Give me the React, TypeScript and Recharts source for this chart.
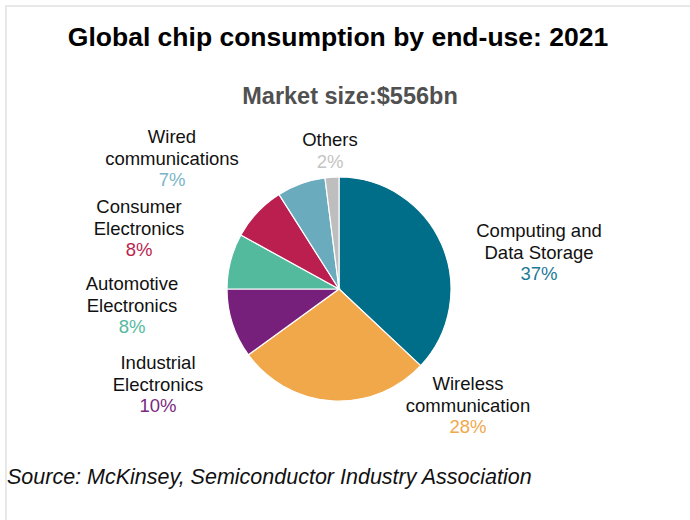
import React from 'react';
import { PieChart, Pie, Cell } from 'recharts';

const categories = [
  'Computing and Data Storage',
  'Wireless communication',
  'Industrial Electronics',
  'Automotive Electronics',
  'Consumer Electronics',
  'Wired communications',
  'Others',
];
const labelLines = [
  ['Computing and', 'Data Storage'],
  ['Wireless', 'communication'],
  ['Industrial', 'Electronics'],
  ['Automotive', 'Electronics'],
  ['Consumer', 'Electronics'],
  ['Wired', 'communications'],
  ['Others'],
];
const shares = [37, 28, 10, 8, 8, 7, 2];
const sliceColors = ['#006E89', '#F1A84B', '#76207B', '#53BA9E', '#BB1F50', '#6AABBE', '#BEBEBE'];
const pctColors = ['#1A7A95', '#F1A84B', '#7A2A80', '#53BA9E', '#BB1F50', '#7AB6C7', '#C4C4C4'];

const TITLE = 'Global chip consumption by end-use: 2021';
const SUBTITLE = 'Market size:$556bn';
const SOURCE = 'Source: McKinsey, Semiconductor Industry Association';

const data = categories.map((name, i) => ({ name, value: shares[i] }));

// label anchor (center x, first-line baseline) relative to pie center
const LABEL_LAYOUT: Array<[number, number]> = [
  [200, -52],
  [129, 101],
  [-181, 80],
  [-207, 1],
  [-200, -76],
  [-167, -146],
  [-9, -143],
];

const FONT = '"Liberation Sans", Arial, sans-serif';
const LINE = 21.5;

const renderLabel = (props: any) => {
  const { cx, cy, index, value } = props;
  const [dx, dy] = LABEL_LAYOUT[index];
  const x = cx + dx;
  const y = cy + dy;
  const lines = labelLines[index];
  return (
    <text x={x} y={y} textAnchor="middle" fontFamily={FONT} fontSize={18.5}>
      {lines.map((l, k) => (
        <tspan key={k} x={x} y={y + k * LINE} fill="#111">
          {l}
        </tspan>
      ))}
      <tspan x={x} y={y + lines.length * LINE} fill={pctColors[index]}>
        {value}%
      </tspan>
    </text>
  );
};

export default function App() {
  return (
    <div style={{ position: 'absolute', left: 0, top: 0, width: 690, height: 520, background: '#fff', overflow: 'hidden' }}>
      <div
        style={{
          position: 'absolute',
          left: 5,
          top: 5,
          width: 685,
          height: 515,
          borderTop: '2px solid #e8e8e8',
          borderLeft: '2px solid #e8e8e8',
        }}
      />
      <svg width={690} height={520} style={{ position: 'absolute', left: 0, top: 0 }}>
        <text x={338} y={46} textAnchor="middle" fontFamily={FONT} fontWeight="bold" fontSize={26.5} fill="#000">
          {TITLE}
        </text>
        <text x={350} y={104} textAnchor="middle" fontFamily={FONT} fontWeight="bold" fontSize={23.5} fill="#505050">
          {SUBTITLE}
        </text>
        <text x={7} y={484} fontFamily={FONT} fontStyle="italic" fontSize={21.5} fill="#111">
          {SOURCE}
        </text>
      </svg>
      <div style={{ position: 'absolute', left: 0, top: 0 }}>
        <PieChart width={690} height={520} margin={{ top: 0, right: 0, bottom: 0, left: 0 }}>
          <Pie
            data={data}
            dataKey="value"
            nameKey="name"
            cx={339}
            cy={289}
            outerRadius={112}
            startAngle={90}
            endAngle={-270}
            stroke="#ffffff"
            strokeWidth={1.2}
            label={renderLabel}
            labelLine={false}
            isAnimationActive={false}
          >
            {data.map((d, i) => (
              <Cell key={d.name} fill={sliceColors[i]} />
            ))}
          </Pie>
        </PieChart>
      </div>
    </div>
  );
}
